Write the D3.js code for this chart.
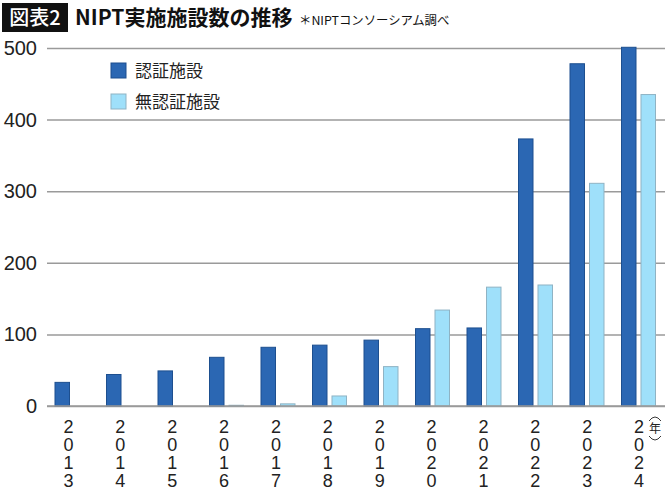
<!DOCTYPE html>
<html>
<head>
<meta charset="utf-8">
<script src="https://cdn.jsdelivr.net/npm/d3@7"></script>
<style>
  body { margin: 0; background: #fff; }
  svg { display: block; }
</style>
</head>
<body>
<script>
// data
const years = ['2013', '2014', '2015', '2016', '2017', '2018', '2019', '2020', '2021', '2022', '2023', '2024'];
const certified = [33, 44, 49, 68, 82, 85, 92, 108, 109, 373, 478, 501];
const uncertified = [0, 0, 0, 1, 3, 14, 55, 134, 166, 169, 311, 435];
const seriesNames = ['認証施設', '無認証施設'];
const yTicks = [0, 100, 200, 300, 400, 500];

const w = 670, h = 493;
const colors = ['#2b67b3', '#9fe0fa'];
const strokes = ['#1d4f8f', '#8fb3c4'];
const jp = "'Noto Sans CJK JP', 'Noto Sans', sans-serif";
const latin = "'Liberation Sans', Arial, sans-serif";

const svg = d3.select('body').append('svg').attr('width', w).attr('height', h);

// title
svg.append('rect').attr('x', 2).attr('y', 3).attr('width', 66).attr('height', 29).attr('fill', '#111');
svg.append('text').text('図表2').attr('x', 35).attr('y', 25).attr('text-anchor', 'middle')
  .attr('font-family', jp).attr('font-size', 20).attr('font-weight', 500).attr('fill', '#fff');
svg.append('text').text('NIPT実施施設数の推移').attr('x', 75).attr('y', 25)
  .attr('font-family', jp).attr('font-size', 21).attr('font-weight', 700).attr('fill', '#111');
svg.append('text').text('＊NIPTコンソーシアム調べ').attr('x', 299).attr('y', 25)
  .attr('font-family', jp).attr('font-size', 12.4).attr('fill', '#111');

// scales
const x = d3.scaleBand().domain(years).range([47, 665]);
const inner = d3.scaleBand().domain([0, 1]).range([8, 42]).paddingInner(0.2564);
const y = d3.scaleLinear().domain([0, 500]).range([406, 48]);
const xLabel = d3.scalePoint().domain(years).range([68.5, 639]);

// grid + y axis
const yAxis = d3.axisLeft(y).tickValues(yTicks).tickSize(-(665 - 47)).tickPadding(10);
const gy = svg.append('g').attr('transform', 'translate(47,0)').call(yAxis);
gy.select('.domain').remove();
gy.selectAll('.tick line').attr('stroke', '#9a9a9a').attr('stroke-width', 1.5);
gy.selectAll('.tick text').attr('font-family', latin).attr('font-size', 20).attr('fill', '#222');

// bars
const data = years.map((yr, i) => ({ year: yr, vals: [certified[i], uncertified[i]] }));
const groups = svg.selectAll('g.year').data(data).enter().append('g').attr('class', 'year')
  .attr('transform', d => 'translate(' + x(d.year) + ',0)');
groups.selectAll('rect').data(d => d.vals.map((v, s) => ({ v: v, s: s }))).enter().append('rect')
  .attr('x', d => inner(d.s))
  .attr('width', inner.bandwidth())
  .attr('y', d => y(d.v))
  .attr('height', d => y(0) - y(d.v))
  .attr('fill', d => colors[d.s])
  .attr('stroke', d => d.v > 0 ? strokes[d.s] : 'none')
  .attr('stroke-width', 1);

// redraw baseline on top
svg.append('line').attr('x1', 47).attr('x2', 665).attr('y1', y(0)).attr('y2', y(0))
  .attr('stroke', '#9a9a9a').attr('stroke-width', 1.5);

// vertical year labels, one digit per line
years.forEach(yr => {
  const t = svg.append('text').attr('text-anchor', 'middle')
    .attr('font-family', latin).attr('font-size', 18).attr('fill', '#222');
  yr.split('').forEach((ch, k) => {
    t.append('tspan').attr('x', xLabel(yr)).attr('y', 433 + k * 18).text(ch);
  });
});

// (年) unit mark, parens drawn as arcs
const ux = 655;
svg.append('text').text('年').attr('x', ux).attr('y', 433).attr('text-anchor', 'middle')
  .attr('font-family', jp).attr('font-size', 12).attr('fill', '#222');
svg.append('path').attr('d', 'M' + (ux - 6) + ',421 Q' + ux + ',413 ' + (ux + 6) + ',421')
  .attr('fill', 'none').attr('stroke', '#222').attr('stroke-width', 0.9);
svg.append('path').attr('d', 'M' + (ux - 6) + ',436 Q' + ux + ',444 ' + (ux + 6) + ',436')
  .attr('fill', 'none').attr('stroke', '#222').attr('stroke-width', 0.9);

// legend
seriesNames.forEach((name, i) => {
  const ly = 63 + i * 31;
  svg.append('rect').attr('x', 111).attr('y', ly).attr('width', 15).attr('height', 15)
    .attr('fill', colors[i]).attr('stroke', strokes[i]).attr('stroke-width', 1);
  svg.append('text').text(name).attr('x', 135).attr('y', ly + 14)
    .attr('font-family', jp).attr('font-size', 17).attr('fill', '#222');
});
</script>
</body>
</html>
